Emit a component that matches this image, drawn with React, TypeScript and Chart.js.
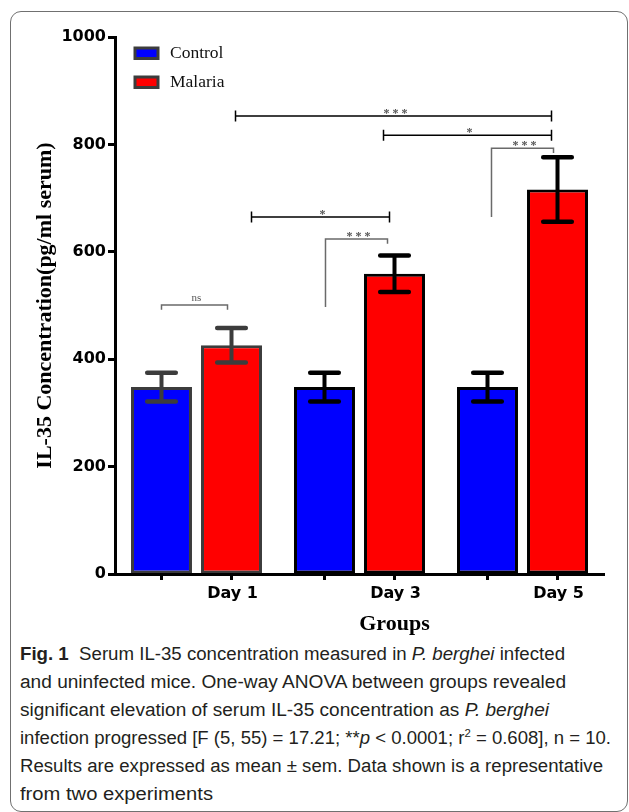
import React, { useEffect, useLayoutEffect, useRef } from "react";
import { Chart, registerables } from "chart.js";

Chart.register(...registerables);

// ---------- data ----------
const groups = ["Day 1", "Day 3", "Day 5"];
const seriesNames = ["Control", "Malaria"];
const controlMeans = [348, 348, 348];
const controlSem = [27, 27, 27];
const malariaMeans = [426, 559, 716];
const malariaSem = [32, 34, 60];
const yMin = 0;
const yMax = 1000;
const yStep = 200;
const yTitle = "IL-35 Concentration(pg/ml serum)";
const xTitle = "Groups";

// significance brackets: bars are [datasetIndex, groupIndex], values on the y scale
const bracketLabels = ["ns", "* * *", "*", "* * *", "*", "* * *"];
const bracketFrom = [[0, 0], [0, 1], [1, 0], [1, 0], [1, 1], [0, 2]];
const bracketTo = [[1, 0], [1, 1], [1, 1], [1, 2], [1, 2], [1, 2]];
const bracketValues = [501, 624, 665, 853, 817, 793];
const bracketFromEnd = [492, 497, null, null, null, 665];
const bracketToEnd = [492, 615, null, null, null, 784];
const bracketFromDx = [0, 1, 20, 4, -11, 4];
const bracketToDx = [-4, -7, -5, -6, -6, -4];
const bracketColors = ["#6a6a6a", "#6a6a6a", "#000000", "#000000", "#000000", "#6a6a6a"];

const fillColors = ["#0000ff", "#ff0000"];
const outlineColors = ["#3c3c3c", "#000000", "#000000"];

const captionWidths = [545, 546, 529, 591, 583, 193];

const tickFont = { family: "'DejaVu Sans', sans-serif", weight: "bold" as const, size: 16 };

const overlayPlugin = {
  id: "overlay",
  afterDatasetsDraw(chart: any) {
    const ctx = chart.ctx;
    const y = chart.scales.y;
    const px = (ds: number, i: number) => chart.getDatasetMeta(ds).data[i].x;
    const sets: [number[], number[]][] = [
      [controlMeans, controlSem],
      [malariaMeans, malariaSem],
    ];
    sets.forEach(([means, sems], ds) => {
      means.forEach((v, i) => {
        const x = px(ds, i);
        const top = y.getPixelForValue(v + sems[i]);
        const bot = y.getPixelForValue(v - sems[i]);
        ctx.save();
        ctx.strokeStyle = outlineColors[i];
        ctx.lineWidth = 4;
        ctx.lineCap = "butt";
        ctx.beginPath();
        ctx.moveTo(x, top);
        ctx.lineTo(x, bot);
        ctx.stroke();
        ctx.lineCap = "round";
        ctx.lineWidth = 4.5;
        ctx.beginPath();
        ctx.moveTo(x - 14.3, top);
        ctx.lineTo(x + 14.3, top);
        ctx.moveTo(x - 14.3, bot);
        ctx.lineTo(x + 14.3, bot);
        ctx.stroke();
        ctx.restore();
      });
    });
  },
  afterDraw(chart: any) {
    const ctx = chart.ctx;
    const y = chart.scales.y;
    const area = chart.chartArea;
    const px = (ds: number, i: number) => chart.getDatasetMeta(ds).data[i].x;

    // x tick marks under each bar
    ctx.save();
    ctx.strokeStyle = "#000";
    ctx.lineWidth = 3;
    [0, 1].forEach((ds) => {
      chart.getDatasetMeta(ds).data.forEach((el: any) => {
        ctx.beginPath();
        ctx.moveTo(el.x, area.bottom);
        ctx.lineTo(el.x, area.bottom + 6);
        ctx.stroke();
      });
    });
    ctx.restore();

    // significance brackets
    bracketLabels.forEach((label, k) => {
      const xa = px(bracketFrom[k][0], bracketFrom[k][1]) + bracketFromDx[k];
      const xb = px(bracketTo[k][0], bracketTo[k][1]) + bracketToDx[k];
      const yy = y.getPixelForValue(bracketValues[k]);
      ctx.save();
      ctx.strokeStyle = bracketColors[k];
      ctx.lineWidth = 1.5;
      ctx.beginPath();
      const ea = bracketFromEnd[k];
      const eb = bracketToEnd[k];
      if (ea !== null && eb !== null) {
        ctx.moveTo(xa, y.getPixelForValue(ea));
        ctx.lineTo(xa, yy);
        ctx.lineTo(xb, yy);
        ctx.lineTo(xb, y.getPixelForValue(eb));
      } else {
        ctx.moveTo(xa, yy);
        ctx.lineTo(xb, yy);
        ctx.moveTo(xa, yy - 5.5);
        ctx.lineTo(xa, yy + 5.5);
        ctx.moveTo(xb, yy - 5.5);
        ctx.lineTo(xb, yy + 5.5);
      }
      ctx.stroke();
      ctx.fillStyle = "#555";
      ctx.font = label === "ns" ? "11px 'Liberation Serif', serif" : "bold 12px 'Liberation Serif', serif";
      ctx.textAlign = "center";
      ctx.textBaseline = "alphabetic";
      ctx.fillText(label, (xa + xb) / 2 + 2, yy + (label === "ns" ? -4 : 1));
      ctx.restore();
    });

    // legend inside the plot area
    ctx.save();
    chart.data.datasets.forEach((ds: any, i: number) => {
      const bx = area.left + 20;
      const by = area.top + 11 + i * 29;
      ctx.fillStyle = ds.backgroundColor;
      ctx.fillRect(bx, by, 23, 10.5);
      ctx.strokeStyle = "#3c3c3c";
      ctx.lineWidth = 3;
      ctx.strokeRect(bx, by, 23, 10.5);
      ctx.fillStyle = "#111";
      ctx.font = "17.5px 'Liberation Serif', serif";
      ctx.textAlign = "left";
      ctx.textBaseline = "alphabetic";
      ctx.fillText(ds.label, bx + 35, by + 10);
    });
    ctx.restore();

    // x axis title, centred under the middle group's label
    ctx.save();
    ctx.fillStyle = "#000";
    ctx.font = "bold 22px 'Liberation Serif', serif";
    ctx.textAlign = "center";
    ctx.textBaseline = "alphabetic";
    ctx.fillText(xTitle, px(1, 1), 630);
    ctx.restore();
  },
};

function CaptionLine({ target, children }: { target: number; children: React.ReactNode }) {
  const ref = useRef<HTMLSpanElement>(null);
  useLayoutEffect(() => {
    const el = ref.current;
    if (!el) return;
    el.style.transform = "none";
    const w = el.getBoundingClientRect().width;
    if (w > 0) el.style.transform = `scaleX(${target / w})`;
  }, [target]);
  return (
    <div style={{ height: 28, lineHeight: "28px", whiteSpace: "nowrap" }}>
      <span ref={ref} style={{ display: "inline-block", transformOrigin: "0 50%" }}>
        {children}
      </span>
    </div>
  );
}

export default function App() {
  const canvasRef = useRef<HTMLCanvasElement>(null);

  useEffect(() => {
    if (!canvasRef.current) return;
    const chart = new Chart(canvasRef.current, {
      type: "bar",
      data: {
        labels: groups,
        datasets: [
          {
            label: seriesNames[0],
            data: controlMeans,
            backgroundColor: fillColors[0],
            borderColor: outlineColors,
            borderWidth: 3,
            borderSkipped: false,
            categoryPercentage: 0.859,
            barPercentage: 0.871,
          },
          {
            label: seriesNames[1],
            data: malariaMeans,
            backgroundColor: fillColors[1],
            borderColor: outlineColors,
            borderWidth: 3,
            borderSkipped: false,
            categoryPercentage: 0.859,
            barPercentage: 0.871,
          },
        ],
      },
      options: {
        responsive: false,
        animation: false,
        devicePixelRatio: 1,
        layout: { padding: { left: 32, top: 37, right: 25, bottom: 0 } },
        plugins: {
          legend: { display: false },
          tooltip: { enabled: false },
          title: { display: false },
        },
        scales: {
          x: {
            type: "category",
            offset: true,
            grid: { display: false, drawTicks: false },
            border: { display: true, color: "#000", width: 3, z: 1 },
            ticks: {
              font: tickFont,
              color: "#000",
              padding: 10,
              labelOffset: 36,
              maxRotation: 0,
              autoSkip: false,
            },
            afterFit: (s: any) => {
              s.height = 66;
            },
          },
          y: {
            min: yMin,
            max: yMax,
            ticks: {
              stepSize: yStep,
              font: tickFont,
              color: "#000",
              padding: 2,
              callback: (v: any) => String(v),
            },
            grid: {
              drawOnChartArea: false,
              drawTicks: true,
              tickLength: 7,
              tickWidth: 3,
              tickColor: "#000",
              color: "#000",
            },
            border: { display: true, color: "#000", width: 3, z: 1 },
            title: {
              display: true,
              text: yTitle,
              color: "#000",
              font: { family: "'Liberation Serif', serif", weight: "bold", size: 22 },
              padding: 0,
            },
            afterFit: (s: any) => {
              s.width = 83;
            },
          },
        },
      } as any,
      plugins: [overlayPlugin],
    });
    return () => chart.destroy();
  }, []);

  const captionStyle: React.CSSProperties = {
    position: "absolute",
    left: 20,
    top: 640,
    fontFamily: "'Liberation Sans', Arial, sans-serif",
    fontSize: 18,
    color: "#231f20",
  };

  return (
    <div style={{ position: "absolute", left: 0, top: 0, width: 629, height: 812, background: "#fff", overflow: "hidden" }}>
      <div
        style={{
          position: "absolute",
          left: 10,
          top: 11,
          width: 618,
          height: 801,
          boxSizing: "border-box",
          border: "1.5px solid #707070",
          borderRadius: 11,
        }}
      />
      <canvas
        ref={canvasRef}
        width={629}
        height={640}
        style={{ position: "absolute", left: 0, top: 0, width: 629, height: 640, display: "block" }}
      />
      <div style={captionStyle}>
        <CaptionLine target={captionWidths[0]}>
          <b>Fig. 1</b>&nbsp;&nbsp;Serum IL-35 concentration measured in <i>P. berghei</i> infected
        </CaptionLine>
        <CaptionLine target={captionWidths[1]}>
          and uninfected mice. One-way ANOVA between groups revealed
        </CaptionLine>
        <CaptionLine target={captionWidths[2]}>
          significant elevation of serum IL-35 concentration as <i>P. berghei</i>
        </CaptionLine>
        <CaptionLine target={captionWidths[3]}>
          infection progressed [F (5, 55) = 17.21; **<i>p</i> &lt; 0.0001; r
          <sup style={{ fontSize: 11, lineHeight: 0 }}>2</sup> = 0.608], n = 10.
        </CaptionLine>
        <CaptionLine target={captionWidths[4]}>
          Results are expressed as mean ± sem. Data shown is a representative
        </CaptionLine>
        <CaptionLine target={captionWidths[5]}>from two experiments</CaptionLine>
      </div>
    </div>
  );
}
